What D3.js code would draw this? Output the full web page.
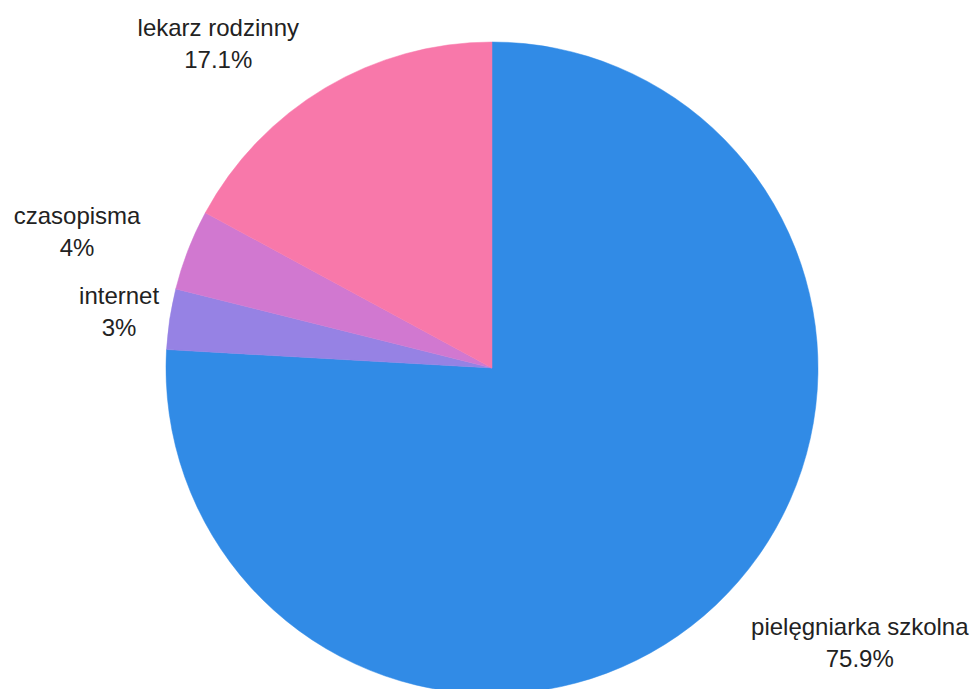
<!DOCTYPE html>
<html>
<head>
<meta charset="utf-8">
<script src="https://cdn.jsdelivr.net/npm/d3@7"></script>
<style>
  html, body { margin: 0; padding: 0; background: #fff; }
  svg { display: block; }
  text { font-family: 'Liberation Sans', Arial, sans-serif; font-size: 24px; fill: #222; }
</style>
</head>
<body>
<div id="chart"></div>
<script>
const categories = ['pielęgniarka szkolna', 'internet', 'czasopisma', 'lekarz rodzinny'];
const percents = [75.9, 3, 4, 17.1];
const colors = ['#318be6', '#9682e4', '#d178d0', '#f878aa'];

const width = 973, height = 689;
const cx = 492, cy = 368, radius = 326;
const labelRadius = radius * 1.157;
const lineHeight = 32;

const data = categories.map((c, i) => ({ name: c, value: percents[i], color: colors[i] }));

const svg = d3.select('#chart')
  .append('svg')
  .attr('width', width)
  .attr('height', height);

const g = svg.append('g')
  .attr('transform', 'translate(' + cx + ',' + cy + ')');

const pie = d3.pie()
  .sort(null)
  .value(d => d.value);

const arc = d3.arc()
  .innerRadius(0)
  .outerRadius(radius);

const arcs = pie(data);

g.selectAll('path.slice')
  .data(arcs)
  .enter()
  .append('path')
  .attr('class', 'slice')
  .attr('d', arc)
  .attr('fill', d => d.data.color)
  .attr('stroke', d => d.data.color)
  .attr('stroke-width', 0.5);

// Labels: placed at labelRadius along mid angle, pushed off the pie if they would overlap
const labels = g.selectAll('g.label')
  .data(arcs)
  .enter()
  .append('g')
  .attr('class', 'label');

labels.each(function(d) {
  const sel = d3.select(this);
  const mid = (d.startAngle + d.endAngle) / 2;
  const ax = Math.sin(mid) * labelRadius;
  const ay = -Math.cos(mid) * labelRadius;
  const t1 = sel.append('text').attr('text-anchor', 'middle').text(d.data.name);
  const t2 = sel.append('text').attr('text-anchor', 'middle')
    .text(d3.format('.3~r')(d.data.value) + '%');
  const w = Math.max(t1.node().getComputedTextLength(), t2.node().getComputedTextLength());
  const h = lineHeight * 2;

  // check overlap of centered block with the pie circle
  let bx = ax;
  const x0 = ax - w / 2, x1 = ax + w / 2, y0 = ay - h / 2, y1 = ay + h / 2;
  const nx = Math.max(x0, Math.min(0, x1)), ny = Math.max(y0, Math.min(0, y1));
  if (Math.sqrt(nx * nx + ny * ny) < radius) {
    bx = ax < 0 ? ax - w / 2 : ax + w / 2;
  }
  t1.attr('x', bx).attr('y', ay - lineHeight / 2).attr('dy', '0.35em');
  t2.attr('x', bx).attr('y', ay + lineHeight / 2).attr('dy', '0.35em');
});
</script>
</body>
</html>
